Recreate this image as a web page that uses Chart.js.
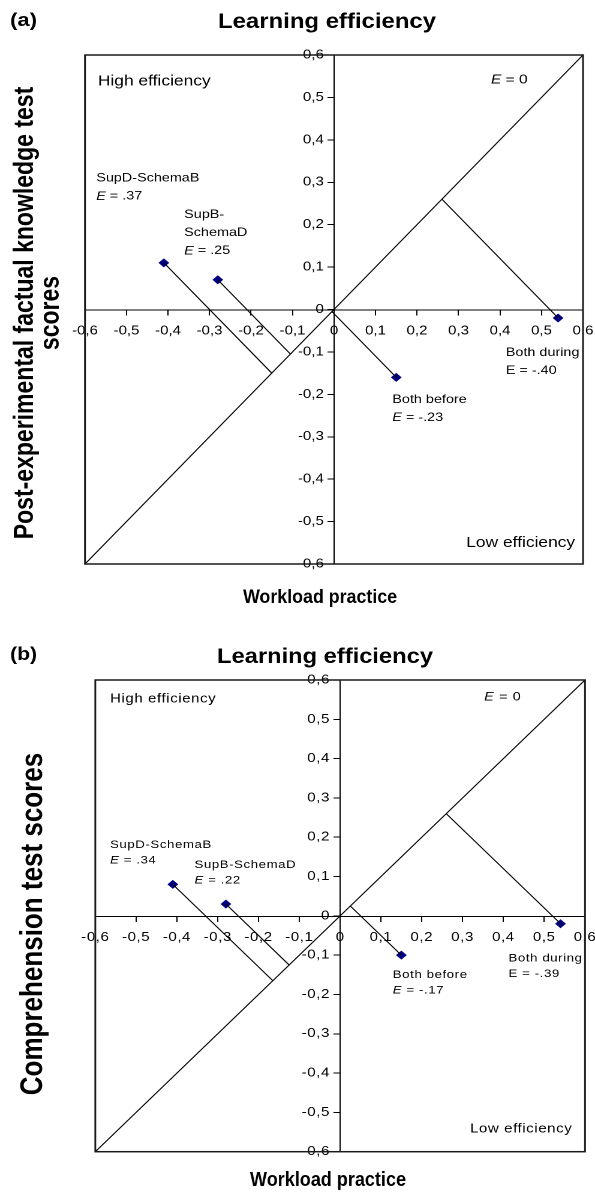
<!DOCTYPE html>
<html><head><meta charset="utf-8">
<script src="https://cdn.jsdelivr.net/npm/chart.js@4.4.1/dist/chart.umd.min.js"></script>
<style>
html,body{margin:0;padding:0;background:#fff;width:595px;height:1193px;overflow:hidden;}
canvas{position:absolute;left:0;}
#ca{top:0;}
#cb{top:612px;}
</style></head><body>
<canvas id="ca" width="496" height="612"></canvas>
<canvas id="cb" width="496" height="581"></canvas>
<script>
// ---------------- data ----------------
const categories = ['SupD-SchemaB', 'SupB-SchemaD', 'Both before', 'Both during'];
const tickValues = [-0.6, -0.5, -0.4, -0.3, -0.2, -0.1, 0, 0.1, 0.2, 0.3, 0.4, 0.5, 0.6];
const diagonalLine = [-0.6, 0.6];           // E = 0 line (y = x)
const italicE = [true, true, true, false];

// (a) post-experimental factual knowledge test scores
const workloadA = [-0.41, -0.28, 0.15, 0.54];
const factualScoresA = [0.11, 0.07, -0.16, -0.02];
const efficiencyA = ['.37', '.25', '-.23', '-.40'];

// (b) comprehension test scores
const workloadB = [-0.41, -0.28, 0.15, 0.54];
const comprehensionScoresB = [0.08, 0.03, -0.10, -0.02];
const efficiencyB = ['.34', '.22', '-.17', '-.39'];

// ---------------- layout / style ----------------
const FONT = '"Liberation Sans", Arial, Helvetica, sans-serif';
const SX = 595 / 496;   // horizontal stretch of the canvas (CSS width / logical width)
const fmtTick = v => (Math.abs(v) < 1e-9 ? '0' : v.toFixed(1).replace('.', ','));

function buildDatasets(xs, ys) {
  const ds = [];
  ds.push({label: 'E = 0', data: diagonalLine.map(v => ({x: v, y: v})), showLine: true,
    borderColor: '#000', borderWidth: 1, pointRadius: 0});
  xs.forEach((x, i) => {
    const y = ys[i];
    const foot = (x + y) / 2;
    ds.push({label: categories[i] + ' distance', data: [{x, y}, {x: foot, y: foot}], showLine: true,
      borderColor: '#000', borderWidth: 1, pointRadius: 0});
  });
  ds.push({label: 'Conditions', data: xs.map((x, i) => ({x, y: ys[i]})), pointStyle: 'rectRot',
    pointRadius: 3.8, backgroundColor: '#000080', borderColor: '#000080', borderWidth: 1});
  return ds;
}

function axis(horizontal, tickSize) {
  return {
    type: 'linear', min: -0.6, max: 0.6, position: 'center',
    afterBuildTicks: s => { s.ticks = tickValues.map(v => ({value: v})); },
    afterFit: s => {
      if (horizontal) s.height = 0; else s.width = 0;
      s.paddingLeft = 0; s.paddingRight = 0; s.paddingTop = 0; s.paddingBottom = 0;
    },
    grid: {display: true, drawOnChartArea: false, drawTicks: true,
      tickLength: 5, color: '#000', tickWidth: 1},
    border: {display: true, color: '#000', width: 1},
    ticks: {autoSkip: false, maxRotation: 0, minRotation: 0, color: '#000',
      font: {family: FONT, size: tickSize}, padding: horizontal ? 9 : 3.5,
      callback: v => fmtTick(v)}
  };
}

function drawRich(ctx, segs, x, y, size, align) {
  let w = 0;
  segs.forEach(([t, it]) => { ctx.font = (it ? 'italic ' : '') + size + 'px ' + FONT; w += ctx.measureText(t).width; });
  let cx = align === 'right' ? x - w : (align === 'center' ? x - w / 2 : x);
  ctx.textAlign = 'left';
  segs.forEach(([t, it]) => {
    ctx.font = (it ? 'italic ' : '') + size + 'px ' + FONT;
    ctx.fillText(t, cx, y);
    cx += ctx.measureText(t).width;
  });
}

// draw bold text with given height (font size) fitted to a target on-screen width
function drawFitted(ctx, t, xCss, y, size, widthCss, align) {
  ctx.font = 'bold ' + size + 'px ' + FONT;
  const w = ctx.measureText(t).width;
  const c = (widthCss / SX) / w;
  ctx.save();
  ctx.translate(xCss / SX, y);
  ctx.scale(c, 1);
  ctx.textAlign = align;
  ctx.fillText(t, 0, 0);
  ctx.restore();
}

const textPlugin = {
  id: 'texts',
  beforeDraw(chart, args, o) { chart.ctx.letterSpacing = o.spacing || '0px'; },
  afterDraw(chart, args, o) {
    const ctx = chart.ctx, sx = chart.scales.x, sy = chart.scales.y, a = chart.chartArea;
    ctx.save();
    ctx.strokeStyle = '#1a1a1a'; ctx.lineWidth = 1.5;
    ctx.strokeRect(a.left, a.top, a.right - a.left, a.bottom - a.top);
    ctx.fillStyle = '#000';
    ctx.textBaseline = 'middle';
    ctx.letterSpacing = o.spacing || '0px';
    o.notes.forEach(n => {
      n.lines.forEach((ln, k) => drawRich(ctx, ln, sx.getPixelForValue(n.x),
        sy.getPixelForValue(n.y) + k * o.gapCorner, n.size, n.align || 'left'));
    });
    o.labelPos.forEach((p, i) => {
      const lines = o.names[i].map(t => [[t, 0]]);
      lines.push([['E', o.italic[i] ? 1 : 0], [' = ' + o.eff[i], 0]]);
      lines.forEach((ln, k) => drawRich(ctx, ln, sx.getPixelForValue(p.x),
        sy.getPixelForValue(p.y) + k * o.gap, o.labelSize, 'left'));
    });
    ctx.letterSpacing = '0px';
    ctx.textBaseline = 'alphabetic';
    drawFitted(ctx, o.tag, o.tagX, o.tagY, o.tagSize, o.tagW, 'left');
    drawFitted(ctx, 'Learning efficiency', o.titleX, o.titleY, o.titleSize, o.titleW, 'center');
    drawFitted(ctx, 'Workload practice', o.xTitleX, o.xTitleY, o.xTitleSize, o.xTitleW, 'center');
    ctx.font = 'bold ' + o.yTitleSize + 'px ' + FONT;
    ctx.textAlign = 'center';
    o.yTitle.forEach((t, k) => {
      ctx.save();
      ctx.translate(o.yTitleX[k] / SX, o.yTitleY);
      ctx.rotate(-Math.PI / 2);
      ctx.fillText(t, 0, 0);
      ctx.restore();
    });
    ctx.restore();
  }
};

function makeChart(id, xs, ys, pad, tickSize, opts) {
  const canvas = document.getElementById(id);
  const chart = new Chart(canvas, {
    type: 'scatter',
    data: {datasets: buildDatasets(xs, ys)},
    options: {
      responsive: false, animation: false, devicePixelRatio: 2,
      layout: {padding: pad},
      plugins: {legend: {display: false}, tooltip: {enabled: false}, title: {display: false}, texts: opts},
      scales: {x: axis(true, tickSize), y: axis(false, tickSize)}
    },
    plugins: [textPlugin]
  });
  canvas.style.width = '595px';
  canvas.style.height = canvas.height / 2 + 'px';
  return chart;
}

makeChart('ca', workloadA, factualScoresA,
  {left: 85 / SX, right: 496 - 583 / SX, top: 55, bottom: 612 - 564}, 12.5, {
    spacing: '0px',
    notes: [
      {lines: [[['High efficiency', 0]]], x: -0.569, y: 0.537, size: 14.5},
      {lines: [[['E', 1], [' = 0', 0]]], x: 0.378, y: 0.541, size: 13},
      {lines: [[['Low efficiency', 0]]], x: 0.581, y: -0.55, size: 14.5, align: 'right'}
    ],
    gapCorner: 18,
    labelPos: [{x: -0.573, y: 0.309}, {x: -0.361, y: 0.223}, {x: 0.1405, y: -0.213}, {x: 0.414, y: -0.102}],
    names: [['SupD-SchemaB'], ['SupB-', 'SchemaD'], ['Both before'], ['Both during']],
    eff: efficiencyA, italic: italicE, gap: 18, labelSize: 12,
    tag: '(a)', tagX: 10, tagY: 26, tagSize: 18, tagW: 27,
    titleX: 327, titleY: 28, titleSize: 21, titleW: 218,
    xTitleX: 320, xTitleY: 603, xTitleSize: 19.5, xTitleW: 154,
    yTitle: ['Post-experimental factual knowledge test', 'scores'], yTitleX: [33, 59], yTitleY: 313, yTitleSize: 23
  });

makeChart('cb', workloadB, comprehensionScoresB,
  {left: 95.3 / SX, right: 496 - 585 / SX, top: 680 - 612, bottom: 581 - (1151.7 - 612)}, 12.5, {
    spacing: '0.5px',
    notes: [
      {lines: [[['High efficiency', 0]]], x: -0.564, y: 0.551, size: 12.5},
      {lines: [[['E', 1], [' = 0', 0]]], x: 0.353, y: 0.556, size: 12},
      {lines: [[['Low efficiency', 0]]], x: 0.569, y: -0.542, size: 12.5, align: 'right'}
    ],
    gapCorner: 16,
    labelPos: [{x: -0.564, y: 0.180}, {x: -0.357, y: 0.129}, {x: 0.129, y: -0.150}, {x: 0.4125, y: -0.109}],
    names: [['SupD-SchemaB'], ['SupB-SchemaD'], ['Both before'], ['Both during']],
    eff: efficiencyB, italic: italicE, gap: 15.5, labelSize: 11,
    tag: '(b)', tagX: 10, tagY: 48, tagSize: 18, tagW: 27,
    titleX: 325, titleY: 51, titleSize: 21, titleW: 216,
    xTitleX: 328, xTitleY: 574, xTitleSize: 20.5, xTitleW: 156,
    yTitle: ['Comprehension test scores'], yTitleX: [42], yTitleY: 312, yTitleSize: 26
  });
</script>
</body></html>
